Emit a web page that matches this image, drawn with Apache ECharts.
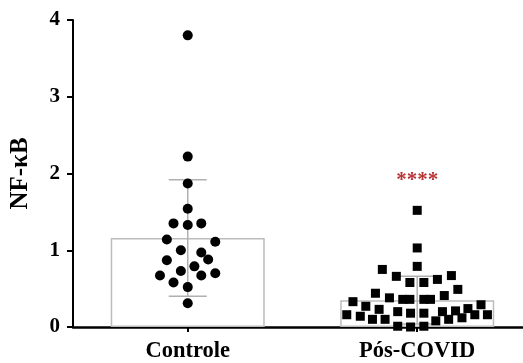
<!DOCTYPE html>
<html>
<head>
<meta charset="utf-8">
<script src="https://cdn.jsdelivr.net/npm/echarts@6/dist/echarts.min.js"></script>
<style>
  html, body { margin: 0; padding: 0; background: #fff; }
  #chart { width: 523px; height: 363px; }
</style>
</head>
<body>
<div id="chart"></div>
<script>
const categories = ['Controle', 'Pós-COVID'];

// group means and SD (bar height + error bar)
const groupMeans = [1.16, 0.35];
const groupSDs = [0.76, 0.31];

// individual points, with horizontal scatter offset (in category widths)
const controleValues = [3.80, 2.22, 1.87, 1.54, 1.35, 1.33, 1.35, 1.14, 1.11, 1.00, 0.97,
  0.87, 0.88, 0.79, 0.73, 0.67, 0.67, 0.70, 0.58, 0.52, 0.31];
const controleJitter = [0, 0, 0, 0, -0.062, 0, 0.059, -0.091, 0.12, -0.03, 0.059,
  -0.091, 0.089, 0.029, -0.03, -0.121, 0.059, 0.12, -0.062, 0, 0];

const posCovidValues = [1.52, 1.03, 0.79, 0.75, 0.66, 0.58, 0.58, 0.62, 0.67, 0.49,
  0.44, 0.38, 0.36, 0.36, 0.36, 0.36, 0.41, 0.33, 0.29, 0.27, 0.23, 0.24, 0.16, 0.14,
  0.10, 0.10, 0.20, 0.18, 0.18, 0.20, 0.21, 0.16, 0.16, 0.08, 0.10, 0.12, 0.01, 0.0, 0.01];
const posCovidJitter = [0, 0, 0, -0.152, -0.091, -0.032, 0.029, 0.088, 0.149, 0.177,
  -0.182, -0.121, -0.063, -0.032, 0.029, 0.058, 0.118, -0.28, 0.278, -0.224, -0.166, 0.221, -0.307, -0.248,
  -0.195, -0.14, -0.085, -0.029, 0.029, 0.11, 0.167, 0.251, 0.306, 0.081, 0.137, 0.195, -0.085, -0.029, 0.029];

// significance marker
const sigCategory = 1;
const sigY = 1.91;
const sigLabel = '****';

const serif = '"Liberation Serif", "Times New Roman", serif';

const chart = echarts.init(document.getElementById('chart'));

function points(values, jitter, idx) {
  return values.map((v, i) => [idx + jitter[i], v]);
}

const catIdx = categories.map((c, i) => i);

chart.setOption({
  animation: false,
  grid: { left: 70, top: 20, right: 0, bottom: 35 },
  // category positions 0,1 on a value axis, cut at the right edge like the original
  xAxis: {
    type: 'value',
    min: -0.5,
    max: 1.461,
    axisLine: { lineStyle: { color: '#000', width: 2.5 } },
    axisTick: { show: true, length: 5, customValues: catIdx, lineStyle: { color: '#000', width: 2 } },
    axisLabel: {
      customValues: catIdx,
      formatter: (v) => categories[Math.round(v)],
      color: '#000', fontFamily: serif, fontWeight: 'bold', fontSize: 22.5, margin: 13,
    },
    splitLine: { show: false },
  },
  yAxis: {
    type: 'value',
    min: 0,
    max: 4,
    interval: 1,
    name: 'NF-κB',
    nameLocation: 'middle',
    nameGap: 40,
    nameTextStyle: { color: '#000', fontFamily: serif, fontWeight: 'bold', fontSize: 25 },
    axisLine: { show: true, onZero: false, lineStyle: { color: '#000', width: 2 } },
    axisTick: { show: true, length: 6, lineStyle: { color: '#000', width: 2 } },
    axisLabel: { color: '#000', fontFamily: serif, fontWeight: 'bold', fontSize: 21, margin: 13 },
    splitLine: { show: false },
  },
  series: [
    {
      type: 'bar',
      data: groupMeans.map((m, i) => [i, m]),
      barWidth: 154,
      itemStyle: { color: 'rgba(255,255,255,0)', borderColor: '#bcbcbc', borderWidth: 1.5 },
      z: 1,
    },
    {
      type: 'custom',
      data: groupMeans.map((m, i) => [i, m, groupSDs[i]]),
      renderItem: function (params, api) {
        const x = api.coord([api.value(0), 0])[0];
        const top = api.coord([api.value(0), api.value(1) + api.value(2)])[1];
        const bot = api.coord([api.value(0), Math.max(0, api.value(1) - api.value(2))])[1];
        const style = { stroke: '#b0b0b0', lineWidth: 1.5 };
        return {
          type: 'group',
          children: [
            { type: 'line', shape: { x1: x, y1: top, x2: x, y2: bot }, style: style },
            { type: 'line', shape: { x1: x - 19, y1: top, x2: x + 19, y2: top }, style: style },
            { type: 'line', shape: { x1: x - 19, y1: bot, x2: x + 19, y2: bot }, style: style },
          ],
        };
      },
      z: 2,
    },
    {
      type: 'scatter',
      data: points(controleValues, controleJitter, 0),
      symbol: 'circle',
      symbolSize: 10,
      itemStyle: { color: '#000', opacity: 1 },
      z: 3,
    },
    {
      type: 'scatter',
      data: points(posCovidValues, posCovidJitter, 1),
      symbol: 'rect',
      symbolSize: 9,
      itemStyle: { color: '#000', opacity: 1 },
      z: 3,
    },
    {
      type: 'scatter',
      data: [[sigCategory, sigY]],
      symbolSize: 0,
      label: {
        show: true,
        position: 'inside',
        formatter: sigLabel,
        color: '#a50000',
        fontFamily: serif,
        fontWeight: 'bold',
        fontSize: 21,
      },
      z: 4,
    },
  ],
});
</script>
</body>
</html>
